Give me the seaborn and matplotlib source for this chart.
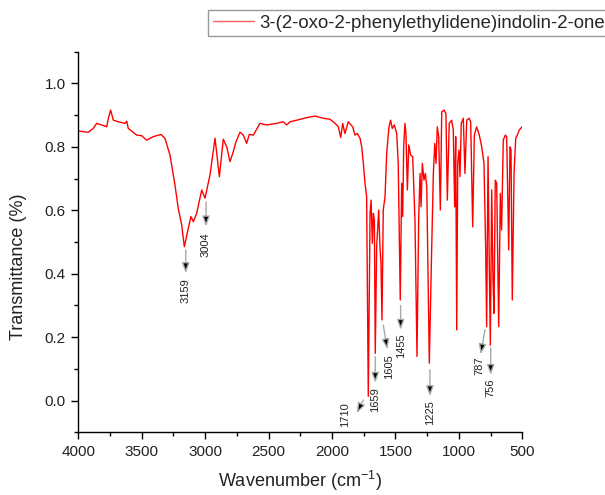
import numpy as np
import pandas as pd
import matplotlib
matplotlib.use("Agg")
import matplotlib.pyplot as plt
from matplotlib.ticker import MultipleLocator, FormatStrFormatter
import seaborn as sns

# FTIR spectrum
wavenumber = [
    4000, 3921, 3882, 3855, 3816, 3776, 3763, 3745, 3724, 3685, 3632, 3618, 3606,
    3540, 3500, 3461, 3409, 3348, 3317, 3277, 3238, 3212, 3185, 3164, 3133, 3112,
    3093, 3067, 3027, 3001, 2962, 2922, 2888, 2857, 2830, 2804, 2778, 2757, 2725,
    2699, 2673, 2652, 2620, 2568, 2515, 2436, 2384, 2357, 2331, 2278, 2200, 2134,
    2068, 2016, 1976, 1950, 1931, 1916, 1898, 1872, 1837, 1819, 1801, 1779, 1766,
    1753, 1740, 1727, 1714, 1700, 1692, 1682, 1674, 1666, 1659, 1648, 1632, 1622,
    1614, 1606, 1596, 1582, 1569, 1551, 1538, 1525, 1509, 1490, 1478, 1462, 1451,
    1443, 1435, 1425, 1417, 1406, 1395, 1380, 1364, 1346, 1330, 1317, 1306, 1298,
    1288, 1275, 1264, 1253, 1233, 1214, 1201, 1190, 1180, 1170, 1159, 1146, 1135,
    1117, 1102, 1091, 1076, 1057, 1044, 1033, 1025, 1017, 1009, 999, 991, 981,
    965, 952, 938, 920, 907, 891, 878, 860, 839, 820, 802, 789, 781, 770, 762,
    752, 741, 731, 723, 713, 702, 686, 673, 663, 650, 634, 623, 607, 597, 589,
    579, 565, 552, 539, 524, 502,
]
transmittance = [
    0.850, 0.846, 0.858, 0.874, 0.869, 0.863, 0.890, 0.916, 0.884, 0.879, 0.874, 0.881, 0.858,
    0.837, 0.835, 0.821, 0.832, 0.839, 0.827, 0.774, 0.680, 0.606, 0.554, 0.485, 0.543, 0.580,
    0.564, 0.590, 0.664, 0.638, 0.711, 0.827, 0.706, 0.824, 0.800, 0.753, 0.785, 0.816, 0.846,
    0.837, 0.811, 0.839, 0.837, 0.874, 0.869, 0.874, 0.879, 0.869, 0.879, 0.884, 0.892, 0.897,
    0.890, 0.887, 0.874, 0.863, 0.829, 0.874, 0.842, 0.879, 0.863, 0.837, 0.842, 0.827, 0.800,
    0.748, 0.685, 0.643, 0.013, 0.590, 0.632, 0.496, 0.590, 0.569, 0.149, 0.485, 0.601, 0.485,
    0.433, 0.254, 0.601, 0.643, 0.780, 0.863, 0.884, 0.858, 0.869, 0.842, 0.748, 0.317, 0.685,
    0.580, 0.800, 0.874, 0.842, 0.664, 0.806, 0.774, 0.769, 0.569, 0.139, 0.569, 0.716, 0.611,
    0.748, 0.695, 0.716, 0.674, 0.118, 0.485, 0.716, 0.811, 0.748, 0.863, 0.832, 0.601, 0.910,
    0.916, 0.905, 0.632, 0.874, 0.884, 0.853, 0.611, 0.832, 0.223, 0.748, 0.790, 0.706, 0.874,
    0.890, 0.716, 0.884, 0.890, 0.879, 0.548, 0.837, 0.863, 0.837, 0.800, 0.748, 0.485, 0.233, 0.769, 0.485,
    0.175, 0.664, 0.380, 0.275, 0.695, 0.685, 0.233, 0.653, 0.538, 0.821, 0.837, 0.832, 0.475, 0.800, 0.790,
    0.317, 0.716, 0.827, 0.837, 0.853, 0.863,
]
compound = "3-(2-oxo-2-phenylethylidene)indolin-2-one"

# labelled bands
peak_labels = ["3159", "3004", "1710", "1659", "1605", "1455", "1225", "787", "756"]

# arrow tail, arrow head, text anchor (data coords) for each labelled band
arrows = {
    "3159": ((3153, 0.475), (3153, 0.402), (3153, 0.385)),
    "3004": ((2993, 0.627), (2993, 0.549), (2993, 0.530)),
    "1710": ((1753, 0.002), (1805, -0.040), (1898, -0.004)),
    "1659": ((1659, 0.138), (1659, 0.056), (1659, 0.043)),
    "1605": ((1596, 0.238), (1564, 0.162), (1547, 0.146)),
    "1455": ((1459, 0.300), (1459, 0.223), (1459, 0.213)),
    "1225": ((1228, 0.097), (1228, 0.014), (1228, 0.002)),
    "787": ((794, 0.223), (828, 0.146), (836, 0.138)),
    "756": ((749, 0.166), (749, 0.081), (749, 0.071)),
}

df = pd.DataFrame({"wn": wavenumber, "T": transmittance})

sns.set_style("ticks")
plt.rcParams["font.family"] = ["Liberation Sans", "DejaVu Sans"]
plt.rcParams["mathtext.default"] = "regular"

fig = plt.figure(figsize=(6.05, 4.95), dpi=100)
ax = fig.add_axes([0.1294, 0.1267, 0.7339, 0.7689])

sns.lineplot(data=df, x="wn", y="T", ax=ax, color="red", linewidth=1.0,
             estimator=None, sort=False, label=compound)

for lab in peak_labels:
    tail, head, txt = arrows[lab]
    ax.annotate("", xy=head, xytext=tail,
                arrowprops=dict(arrowstyle="-|>,head_length=0.6,head_width=0.22",
                                ec="#a8a8a8", fc="black", lw=1.0,
                                shrinkA=0, shrinkB=0))
    ax.text(txt[0], txt[1], lab, rotation=90, ha="center", va="top",
            fontsize=8, color="#222222")

ax.set_xlim(4000, 500)
ax.set_ylim(-0.1, 1.1)
ax.xaxis.set_major_locator(MultipleLocator(500))
ax.xaxis.set_minor_locator(MultipleLocator(250))
ax.yaxis.set_major_locator(MultipleLocator(0.2))
ax.yaxis.set_minor_locator(MultipleLocator(0.1))
ax.yaxis.set_major_formatter(FormatStrFormatter("%.1f"))
ax.tick_params(which="major", length=5, width=1, direction="out", labelsize=11,
               pad=4, color="black", labelcolor="#222222")
ax.tick_params(which="minor", length=3, width=1, direction="out", color="black")

sns.despine(ax=ax)
for s in ["left", "bottom"]:
    ax.spines[s].set_linewidth(1.0)
    ax.spines[s].set_color("black")

ax.set_xlabel("Wavenumber (cm$^{-1}$)", fontsize=13, color="#222222")
ax.set_ylabel("Transmittance (%)", fontsize=13, color="#222222")
ax.xaxis.set_label_coords(0.5, -0.095)
ax.yaxis.set_label_coords(-0.115, 0.434)

leg = ax.legend(loc="upper left", bbox_to_anchor=(208 / 605, 1 - 10 / 495),
                bbox_transform=fig.transFigure, frameon=True, fancybox=False,
                edgecolor="#808080", fontsize=13.4, handlelength=2.2,
                handletextpad=0.3, borderpad=0.25, borderaxespad=0)
leg.get_frame().set_linewidth(1.0)
leg.get_lines()[0].set_color("#ff6060")

fig.savefig("out.png", dpi=100)
